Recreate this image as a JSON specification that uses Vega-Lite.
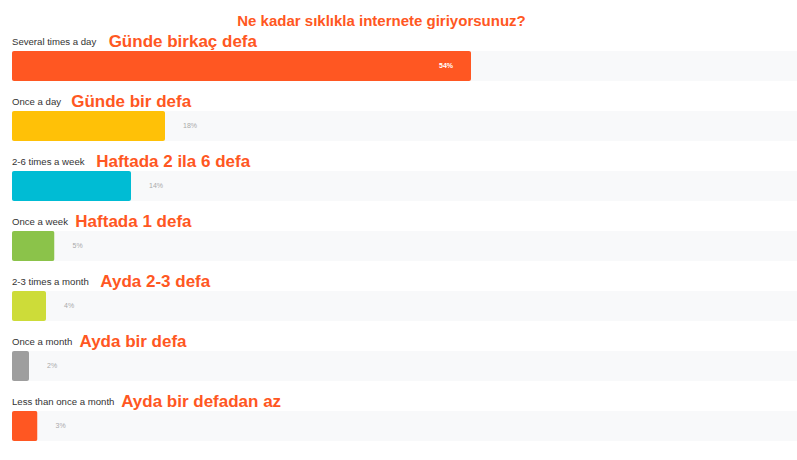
{
  "$schema": "https://vega.github.io/schema/vega-lite/v6.json",
  "autosize": "none",
  "width": 785,
  "height": 420,
  "padding": {"left": 12, "top": 36, "right": 0, "bottom": 4},
  "background": "white",
  "view": {"stroke": null},
  "title": {
    "text": "Ne kadar sıklıkla internete giriyorsunuz?",
    "anchor": "middle",
    "dx": -23,
    "offset": 4,
    "font": "Liberation Sans",
    "fontSize": 15,
    "fontWeight": "bold",
    "color": "#FF5722"
  },
  "data": {
    "values": [
      {"en": "Several times a day", "tr": "Günde birkaç defa", "pct": 54, "col": "c1"},
      {"en": "Once a day", "tr": "Günde bir defa", "pct": 18, "col": "c2"},
      {"en": "2-6 times a week", "tr": "Haftada 2 ila 6 defa", "pct": 14, "col": "c3"},
      {"en": "Once a week", "tr": "Haftada 1 defa", "pct": 5, "col": "c4"},
      {"en": "2-3 times a month", "tr": "Ayda 2-3 defa", "pct": 4, "col": "c5"},
      {"en": "Once a month", "tr": "Ayda bir defa", "pct": 2, "col": "c6"},
      {"en": "Less than once a month", "tr": "Ayda bir defadan az", "pct": 3, "col": "c7"}
    ]
  },
  "transform": [
    {"calculate": "datum.pct + '%'", "as": "label"},
    {"calculate": "2.06 + 0.49 * length(datum.en)", "as": "trX"}
  ],
  "encoding": {
    "y": {
      "field": "en",
      "type": "nominal",
      "sort": null,
      "axis": null,
      "scale": {"paddingInner": 0.5, "paddingOuter": 0.25}
    }
  },
  "layer": [
    {
      "mark": {"type": "bar", "color": "#F8F9FA"},
      "encoding": {"x": {"value": 0}, "x2": {"value": "width"}}
    },
    {
      "mark": {"type": "bar", "cornerRadius": 2},
      "encoding": {
        "x": {
          "field": "pct",
          "type": "quantitative",
          "axis": null,
          "scale": {"domain": [0, 92.35], "nice": false, "zero": true}
        },
        "color": {
          "field": "col",
          "type": "nominal",
          "legend": null,
          "scale": {
            "domain": ["c1", "c2", "c3", "c4", "c5", "c6", "c7"],
            "range": ["#FF5722", "#FFC107", "#00BCD4", "#8BC34A", "#CDDC39", "#9E9E9E", "#FF5722"]
          }
        }
      }
    },
    {
      "transform": [{"filter": "datum.pct > 30"}],
      "mark": {
        "type": "text",
        "align": "right",
        "baseline": "middle",
        "dx": -18,
        "font": "Liberation Sans",
        "fontSize": 7,
        "fontWeight": "bold",
        "color": "white"
      },
      "encoding": {
        "x": {"field": "pct", "type": "quantitative"},
        "text": {"field": "label"}
      }
    },
    {
      "transform": [{"filter": "datum.pct <= 30"}],
      "mark": {
        "type": "text",
        "align": "left",
        "baseline": "middle",
        "dx": 18,
        "font": "Liberation Sans",
        "fontSize": 7,
        "color": "#AAAAAA"
      },
      "encoding": {
        "x": {"field": "pct", "type": "quantitative"},
        "text": {"field": "label"}
      }
    },
    {
      "mark": {
        "type": "text",
        "align": "left",
        "baseline": "alphabetic",
        "dy": -21,
        "font": "Liberation Sans",
        "fontSize": 9.6,
        "color": "#333333"
      },
      "encoding": {
        "x": {"value": 0},
        "text": {"field": "en"}
      }
    },
    {
      "mark": {
        "type": "text",
        "align": "left",
        "baseline": "alphabetic",
        "dy": -19.5,
        "font": "Liberation Sans",
        "fontSize": 17,
        "fontWeight": "bold",
        "color": "#FF5722"
      },
      "encoding": {
        "x": {"field": "trX", "type": "quantitative"},
        "text": {"field": "tr"}
      }
    }
  ]
}
